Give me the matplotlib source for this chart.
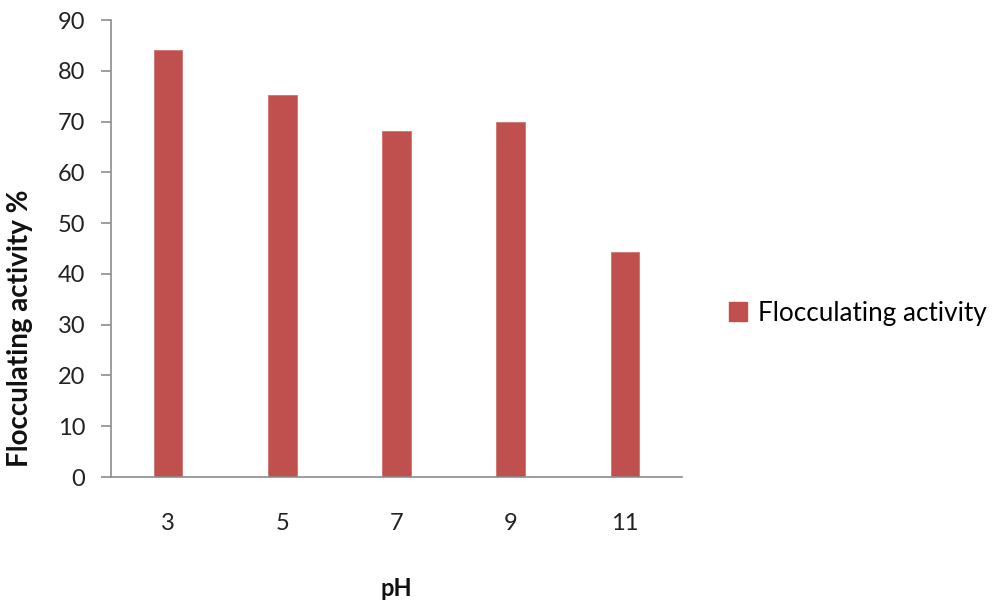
import numpy as np
import matplotlib.pyplot as plt
from matplotlib.patches import Patch

ph_labels = ["3", "5", "7", "9", "11"]
activity = [84.1, 75.2, 68.1, 70.0, 44.3]

plt.rcParams['font.family'] = ['Lato', 'DejaVu Sans']

fig = plt.figure(figsize=(10, 6.09), dpi=100)
ax = fig.add_axes([0.111, 0.2167, 0.571, 0.7504])

x = np.arange(len(ph_labels))
ax.bar(x, activity, width=0.25, color="#C0504D", edgecolor="#D07370", linewidth=0.6)

ax.set_xlim(-0.5, len(ph_labels) - 0.5)
ax.set_ylim(0, 90)
ax.set_yticks(np.arange(0, 91, 10))
ax.set_xticks(x)
ax.set_xticklabels(ph_labels)

for s in ["top", "right"]:
    ax.spines[s].set_visible(False)
for s in ["left", "bottom"]:
    ax.spines[s].set_color("#8C8C8C")
    ax.spines[s].set_linewidth(1.2)

ax.tick_params(axis="y", length=7.5, width=1.2, color="#8C8C8C", labelsize=17, pad=11, labelcolor="#222222")
ax.tick_params(axis="x", length=0, labelsize=17, pad=26, labelcolor="#222222")

ax.set_ylabel("Flocculating activity %", fontsize=20, fontweight="bold", color="#111111")
ax.yaxis.set_label_coords(-0.137, 0.326)
fig.text(0.396, 1 - 588 / 609, "pH", fontsize=17, fontweight="bold", ha="center", va="center", color="#111111")

handles = [Patch(facecolor="#C0504D", edgecolor="#C0504D", label="Flocculating activity")]
fig.legend(handles=handles, loc="center left", bbox_to_anchor=(0.705, 1 - 313 / 609), frameon=False,
           fontsize=18.8, handlelength=0.72, handleheight=0.72, handletextpad=0.4)

fig.savefig("out.png", dpi=100)
